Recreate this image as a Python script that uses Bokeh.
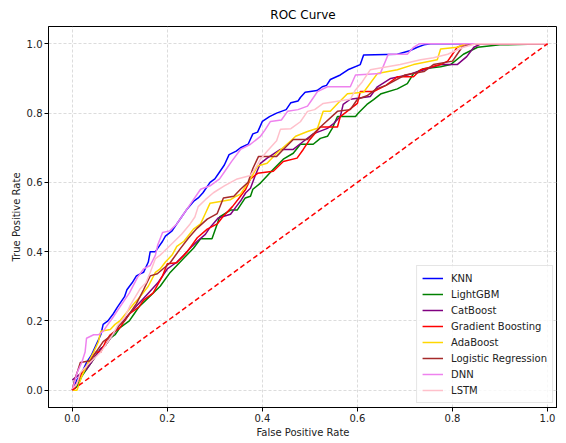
from bokeh.plotting import figure
from bokeh.models import Range1d, FixedTicker, PrintfTickFormatter, Legend, LegendItem
from bokeh.embed import file_html
from bokeh.resources import INLINE

# ---- data (fpr, tpr) ----
knn = [(0,0),(0.01,0.03),(0.02,0.05),(0.03,0.08),(0.04,0.1),(0.05,0.13),(0.06,0.16),(0.065,0.19),(0.075,0.2),
       (0.086,0.22),(0.095,0.24),(0.1,0.25),(0.11,0.27),(0.115,0.29),(0.126,0.31),(0.135,0.33),(0.143,0.336),
       (0.15,0.34),(0.16,0.37),(0.164,0.40),(0.175,0.40),(0.18,0.41),(0.19,0.43),(0.196,0.445),(0.21,0.46),
       (0.22,0.48),(0.23,0.50),(0.24,0.52),(0.255,0.545),(0.265,0.555),(0.275,0.57),(0.29,0.6),(0.3,0.61),
       (0.31,0.63),(0.32,0.65),(0.33,0.68),(0.345,0.69),(0.354,0.70),(0.37,0.71),(0.38,0.74),(0.39,0.745),
       (0.40,0.776),(0.415,0.79),(0.43,0.80),(0.44,0.805),(0.45,0.81),(0.46,0.83),(0.475,0.835),(0.48,0.845),
       (0.49,0.86),(0.515,0.865),(0.526,0.876),(0.535,0.88),(0.543,0.897),(0.564,0.91),(0.58,0.925),
       (0.606,0.94),(0.613,0.968),(0.684,0.97),(0.71,0.98),(0.726,0.99),(0.74,0.997),(0.754,1.0),(1.0,1.0)]
lightgbm = [(0,0),(0.01,0.01),(0.02,0.04),(0.03,0.06),(0.04,0.08),(0.05,0.1),(0.06,0.12),(0.07,0.13),(0.08,0.15),
            (0.09,0.16),(0.1,0.18),(0.11,0.19),(0.12,0.2),(0.13,0.22),(0.14,0.24),(0.155,0.26),(0.17,0.28),
            (0.185,0.30),(0.206,0.34),(0.234,0.38),(0.255,0.41),(0.27,0.437),(0.294,0.437),(0.305,0.48),
            (0.31,0.50),(0.333,0.52),(0.347,0.52),(0.364,0.555),(0.375,0.56),(0.38,0.58),(0.396,0.598),
            (0.423,0.638),(0.444,0.667),(0.465,0.684),(0.48,0.71),(0.507,0.71),(0.522,0.727),(0.537,0.733),
            (0.547,0.756),(0.558,0.79),(0.596,0.79),(0.602,0.80),(0.62,0.825),(0.634,0.839),(0.65,0.856),
            (0.684,0.87),(0.705,0.885),(0.718,0.914),(0.739,0.928),(0.775,0.934),(0.796,0.94),(0.823,0.97),
            (0.853,0.99),(0.9,0.997),(1.0,1.0)]
catboost = [(0,0.03),(0.01,0.04),(0.02,0.05),(0.03,0.06),(0.04,0.08),(0.05,0.1),(0.06,0.12),(0.07,0.13),
            (0.08,0.15),(0.09,0.17),(0.1,0.19),(0.12,0.22),(0.14,0.25),(0.16,0.28),(0.18,0.31),(0.2,0.35),
            (0.21,0.36),(0.22,0.37),(0.235,0.39),(0.248,0.41),(0.263,0.43),(0.28,0.45),(0.29,0.47),(0.307,0.497),
            (0.333,0.508),(0.345,0.53),(0.354,0.546),(0.365,0.57),(0.375,0.583),(0.385,0.62),(0.396,0.655),
            (0.41,0.67),(0.438,0.695),(0.465,0.695),(0.486,0.718),(0.507,0.74),(0.537,0.756),(0.55,0.77),
            (0.564,0.79),(0.57,0.825),(0.585,0.84),(0.627,0.848),(0.642,0.876),(0.67,0.9),(0.705,0.91),
            (0.74,0.925),(0.775,0.94),(0.81,0.94),(0.83,0.963),(0.845,0.99),(0.86,1.0),(1.0,1.0)]
gradient_boosting = [(0,0),(0.01,0.02),(0.02,0.05),(0.03,0.07),(0.04,0.09),(0.05,0.11),(0.06,0.11),(0.07,0.14),
                     (0.08,0.16),(0.09,0.17),(0.1,0.18),(0.11,0.2),(0.12,0.22),(0.13,0.23),(0.14,0.24),(0.15,0.26),
                     (0.17,0.28),(0.19,0.33),(0.2,0.365),(0.22,0.368),(0.242,0.40),(0.263,0.44),(0.284,0.465),
                     (0.305,0.48),(0.318,0.503),(0.337,0.53),(0.354,0.56),(0.365,0.58),(0.375,0.61),(0.39,0.626),
                     (0.423,0.632),(0.444,0.66),(0.473,0.67),(0.486,0.695),(0.5,0.724),(0.522,0.76),(0.558,0.76),
                     (0.564,0.79),(0.6,0.828),(0.606,0.862),(0.634,0.862),(0.66,0.88),(0.684,0.905),(0.718,0.905),
                     (0.733,0.925),(0.775,0.94),(0.79,0.95),(0.80,0.97),(0.81,0.99),(0.83,1.0),(1.0,1.0)]
adaboost = [(0,0),(0.01,0.0),(0.02,0.04),(0.03,0.07),(0.045,0.11),(0.055,0.14),(0.06,0.17),(0.08,0.175),(0.09,0.19),
            (0.1,0.2),(0.115,0.225),(0.13,0.25),(0.143,0.27),(0.16,0.3),(0.175,0.34),(0.185,0.35),(0.196,0.37),
            (0.21,0.39),(0.22,0.415),(0.235,0.43),(0.255,0.465),(0.27,0.48),(0.28,0.51),(0.29,0.54),(0.333,0.55),
            (0.345,0.56),(0.354,0.566),(0.375,0.61),(0.39,0.647),(0.41,0.655),(0.43,0.684),(0.46,0.72),
            (0.47,0.733),(0.495,0.747),(0.516,0.756),(0.528,0.805),(0.543,0.805),(0.56,0.83),(0.579,0.856),
            (0.613,0.86),(0.642,0.914),(0.684,0.925),(0.718,0.94),(0.768,0.954),(0.775,0.985),(0.81,0.99),
            (0.827,1.0),(1.0,1.0)]
logistic_regression = [(0,0),(0.005,0.03),(0.01,0.05),(0.017,0.08),(0.038,0.085),(0.045,0.1),(0.055,0.12),
                       (0.065,0.14),(0.075,0.15),(0.09,0.17),(0.1,0.19),(0.11,0.2),(0.12,0.22),(0.135,0.25),
                       (0.15,0.29),(0.164,0.33),(0.179,0.336),(0.206,0.368),(0.227,0.408),(0.245,0.44),
                       (0.263,0.468),(0.284,0.494),(0.305,0.51),(0.318,0.555),(0.34,0.56),(0.354,0.58),(0.37,0.60),
                       (0.38,0.64),(0.392,0.675),(0.43,0.675),(0.444,0.695),(0.465,0.724),(0.495,0.724),(0.522,0.76),
                       (0.558,0.805),(0.585,0.81),(0.6,0.84),(0.62,0.85),(0.64,0.87),(0.66,0.88),(0.7,0.91),
                       (0.74,0.92),(0.76,0.94),(0.8,0.95),(0.81,0.97),(0.82,0.99),(0.84,1.0),(1.0,1.0)]
dnn = [(0,0),(0.01,0.05),(0.02,0.08),(0.027,0.11),(0.03,0.15),(0.045,0.16),(0.055,0.16),(0.065,0.17),(0.075,0.19),
       (0.084,0.207),(0.1,0.24),(0.11,0.26),(0.12,0.28),(0.137,0.325),(0.15,0.35),(0.164,0.36),(0.175,0.39),
       (0.18,0.42),(0.19,0.455),(0.205,0.46),(0.22,0.48),(0.235,0.51),(0.25,0.54),(0.26,0.56),(0.27,0.58),
       (0.29,0.59),(0.31,0.61),(0.32,0.63),(0.335,0.66),(0.354,0.695),(0.375,0.71),(0.396,0.733),(0.405,0.75),
       (0.417,0.776),(0.44,0.78),(0.453,0.805),(0.475,0.81),(0.495,0.82),(0.505,0.84),(0.516,0.862),
       (0.537,0.876),(0.585,0.876),(0.596,0.91),(0.648,0.914),(0.665,0.97),(0.705,0.97),(0.718,0.99),
       (0.73,1.0),(1.0,1.0)]
lstm = [(0,0),(0.01,0.02),(0.017,0.05),(0.03,0.07),(0.045,0.09),(0.06,0.11),(0.075,0.14),(0.085,0.16),
        (0.095,0.186),(0.11,0.21),(0.122,0.245),(0.143,0.293),(0.155,0.31),(0.164,0.34),(0.175,0.38),(0.185,0.39),
        (0.2,0.41),(0.215,0.43),(0.23,0.45),(0.248,0.48),(0.258,0.50),(0.265,0.53),(0.28,0.55),(0.297,0.57),
        (0.32,0.59),(0.347,0.61),(0.375,0.62),(0.385,0.64),(0.396,0.667),(0.41,0.69),(0.43,0.72),(0.438,0.753),
        (0.46,0.755),(0.48,0.775),(0.495,0.805),(0.51,0.81),(0.528,0.828),(0.585,0.84),(0.595,0.865),
        (0.61,0.89),(0.627,0.925),(0.69,0.94),(0.733,0.954),(0.76,0.96),(0.79,0.97),(0.823,0.99),(0.85,1.0),
        (1.0,1.0)]

model_names = ["KNN", "LightGBM", "CatBoost", "Gradient Boosting", "AdaBoost",
               "Logistic Regression", "DNN", "LSTM"]
model_curves = [knn, lightgbm, catboost, gradient_boosting, adaboost, logistic_regression, dnn, lstm]
model_colors = ["#0000FF", "#008000", "#800080", "#FF0000", "#FFD700", "#A52A2A", "#EE82EE", "#FFC0CB"]
chance_x = [0, 1]
chance_y = [0, 1]
axis_ticks = [0.0, 0.2, 0.4, 0.6, 0.8, 1.0]

FONT = "DejaVu Sans"

p = figure(frame_width=509, frame_height=381, output_backend="svg", toolbar_location=None,
           x_range=Range1d(-0.05, 1.021), y_range=Range1d(-0.05, 1.05),
           title="ROC Curve", min_border_left=48, min_border_right=0,
           min_border_top=25, min_border_bottom=0)

p.title.align = "center"
p.title.text_font = FONT
p.title.text_font_size = "12px"
p.title.text_font_style = "normal"
p.title.text_color = "#000000"

items = []
for name, curve, color in zip(model_names, model_curves, model_colors):
    xs = [pt[0] for pt in curve]
    ys = [pt[1] for pt in curve]
    r = p.line(xs, ys, line_color=color, line_width=1.5)
    items.append(LegendItem(label=name, renderers=[r]))

p.line(chance_x, chance_y, line_color="#FF0000", line_width=1.5, line_dash="5 3")

for ax in (p.xaxis, p.yaxis):
    ax.ticker = FixedTicker(ticks=axis_ticks)
    ax.formatter = PrintfTickFormatter(format="%.1f")
    ax.major_label_text_font = FONT
    ax.major_label_text_font_size = "10px"
    ax.major_label_text_color = "#222222"
    ax.axis_label_text_font = FONT
    ax.axis_label_text_font_size = "10px"
    ax.axis_label_text_font_style = "normal"
    ax.axis_label_text_color = "#222222"
    ax.axis_line_color = "black"
    ax.major_tick_line_color = "black"
    ax.major_tick_out = 4
    ax.major_tick_in = 0
    ax.minor_tick_line_color = None
    ax.major_label_standoff = 2
    ax.axis_label_standoff = 2

p.xaxis.axis_label = "False Positive Rate"
p.yaxis.axis_label = "True Positive Rate"

p.grid.grid_line_color = "#c0c0c0"
p.grid.grid_line_alpha = 0.7
p.grid.grid_line_dash = "3 2"
p.grid.grid_line_width = 0.8
p.xgrid.ticker = FixedTicker(ticks=axis_ticks)
p.ygrid.ticker = FixedTicker(ticks=axis_ticks)

p.outline_line_color = "black"
p.outline_line_width = 1
p.outline_line_alpha = 1
p.background_fill_color = "white"
p.border_fill_color = "white"

legend = Legend(items=items, location="bottom_right")
legend.label_text_font = FONT
legend.label_text_font_size = "10px"
legend.label_text_color = "#222222"
legend.glyph_width = 21
legend.glyph_height = 14
legend.label_height = 14
legend.label_standoff = 8
legend.spacing = 2
legend.padding = 5
legend.margin = 4
legend.border_line_color = "#cccccc"
legend.border_line_width = 1
legend.background_fill_alpha = 0.8
p.add_layout(legend)

open("out.html", "w").write(file_html(p, INLINE))
